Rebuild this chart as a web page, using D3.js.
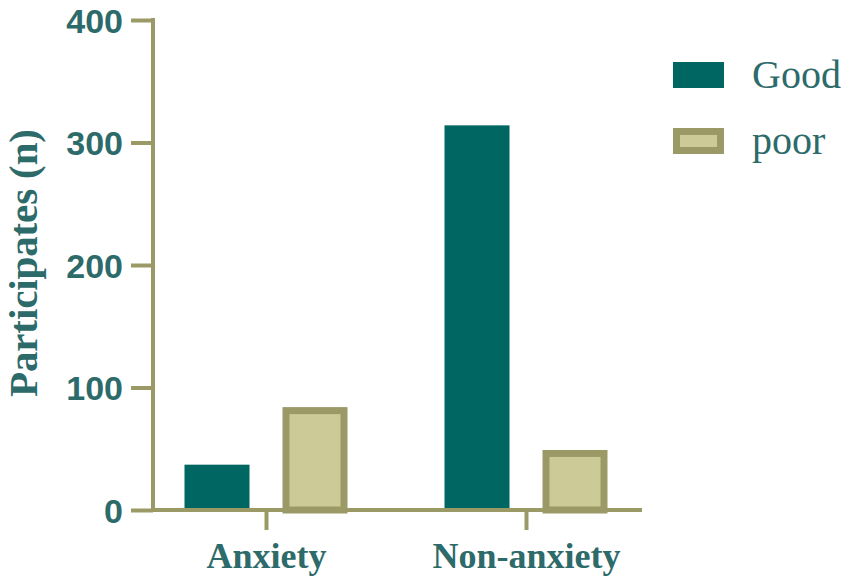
<!DOCTYPE html>
<html><head><meta charset="utf-8">
<script src="https://cdn.jsdelivr.net/npm/d3@7"></script>
<style>body{margin:0;background:#fff}svg{display:block}</style>
</head><body>
<svg id="c" width="851" height="583"></svg>
<script>
const categories = ["Anxiety", "Non-anxiety"];
const seriesNames = ["Good", "poor"];
const goodValues = [37, 314];
const poorValues = [84, 49];
const yTicks = [0, 100, 200, 300, 400];

const teal = "#006661", tan = "#cccb98", olive = "#9b9a67", textC = "#2d6a6a";
const svg = d3.select("#c");
const y = d3.scaleLinear().domain([0, 400]).range([510, 20]);
const x0 = d3.scalePoint().domain(categories).range([266, 526]);
const x1 = d3.scalePoint().domain(seriesNames).range([-49, 49]);
const bw = 65;

// bars
const data = categories.map((c, i) => ({c, vals: [goodValues[i], poorValues[i]]}));
data.forEach(d => {
  d.vals.forEach((v, j) => {
    const cx = x0(d.c) + x1(seriesNames[j]);
    if (j === 0) {
      svg.append("rect").attr("x", cx - bw/2).attr("width", bw)
        .attr("y", y(v)).attr("height", y(0) - y(v)).attr("fill", teal);
    } else {
      const sw = 7;
      svg.append("rect").attr("x", cx - bw/2 + sw/2).attr("width", bw - sw)
        .attr("y", y(v) + sw/2).attr("height", y(0) - y(v) - sw/2)
        .attr("fill", tan).attr("stroke", olive).attr("stroke-width", sw);
    }
  });
});

// y axis
const ya = svg.append("g").attr("transform", "translate(153,0)")
  .call(d3.axisLeft(y).tickValues(yTicks).tickSize(22).tickPadding(8));
ya.select(".domain").attr("stroke", olive).attr("stroke-width", 4).attr("d", "M0,18V512");
ya.selectAll(".tick line").attr("stroke", olive).attr("stroke-width", 4);
ya.selectAll(".tick text").attr("fill", textC)
  .style("font-family", "Liberation Sans, Arial, sans-serif").style("font-weight", "bold").style("font-size", "34px")
  .attr("dy", "0.36em");

// x axis
const xa = svg.append("g").attr("transform", "translate(0,510)")
  .call(d3.axisBottom(x0).tickSize(20).tickPadding(10));
xa.select(".domain").attr("stroke", olive).attr("stroke-width", 4).attr("d", "M151,0H642");
xa.selectAll(".tick line").attr("stroke", olive).attr("stroke-width", 4);
xa.selectAll(".tick text").attr("fill", textC)
  .style("font-family", "Liberation Serif, Times New Roman, serif").style("font-weight", "bold").style("font-size", "36px")
  .attr("y", 58).attr("dy", 0);

// y title
svg.append("text").attr("transform", "translate(37,263) rotate(-90)")
  .attr("text-anchor", "middle").attr("fill", textC)
  .style("font-family", "Liberation Serif, Times New Roman, serif").style("font-weight", "bold").style("font-size", "41px")
  .attr("textLength", 268).attr("lengthAdjust", "spacing")
  .text("Participates (n)");

// legend
const lg = svg.append("g");
seriesNames.forEach((s, i) => {
  const ly = 62 + i * 66;
  if (i === 0) {
    lg.append("rect").attr("x", 673).attr("y", ly).attr("width", 51).attr("height", 26).attr("fill", teal);
  } else {
    lg.append("rect").attr("x", 676.5).attr("y", ly + 3.5).attr("width", 44).attr("height", 19)
      .attr("fill", tan).attr("stroke", olive).attr("stroke-width", 7);
  }
  lg.append("text").attr("x", 752).attr("y", ly + 26).attr("fill", textC)
    .style("font-family", "Liberation Serif, Times New Roman, serif").style("font-size", "40px")
    .text(s);
});
</script>
</body></html>
